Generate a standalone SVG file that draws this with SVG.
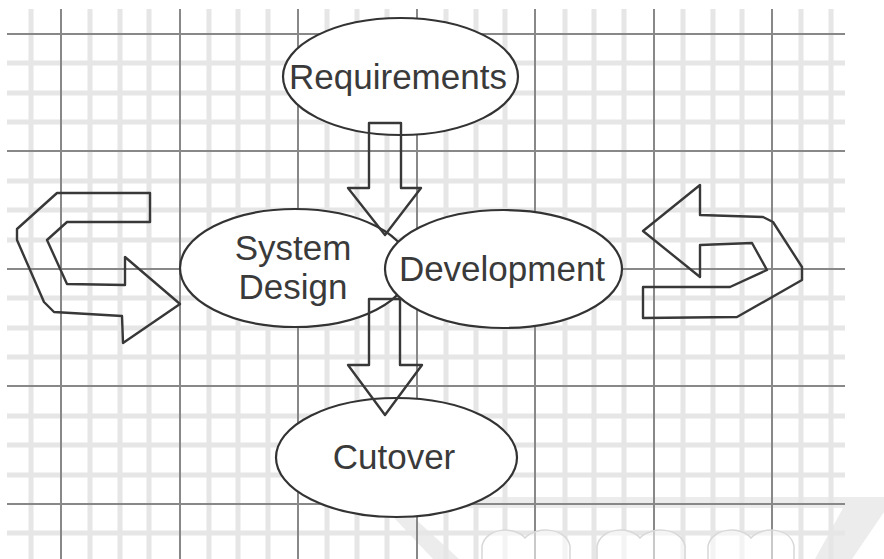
<svg xmlns="http://www.w3.org/2000/svg" width="884" height="559" viewBox="0 0 884 559">
  <style>
    .minor { stroke: #e6e6e6; stroke-width: 5; }
    .major { stroke: #888; stroke-width: 2; }
    .node ellipse { fill: #fff; stroke: #333; stroke-width: 2.2; }
    .node text { font-family: "Liberation Sans", Arial, sans-serif; font-size: 35px; fill: #3a3a3a; text-anchor: middle; }
    .arrow { fill: none; stroke: #383838; stroke-width: 2.4; stroke-linejoin: round; }
    .mark { fill: #ececec; }
    .heart { fill: #fff; fill-opacity: 0.55; stroke: #d8d8d8; stroke-width: 1.5; }
  </style>

  <rect width="884" height="559" fill="#fff"/>

  <!-- faint logo band along the bottom edge -->
  <g id="logo-band">
    <rect class="mark" x="385" y="497" width="499" height="11"/>
    <polygon class="mark" points="382,505 400,505 459,559 433,559"/>
    <polygon class="mark" points="848,499 884,499 884,512 852,559 815,559"/>
  </g>

  <!-- grid paper -->
  <g id="grid">
    <g class="minor">
      <line x1="31" y1="9" x2="31" y2="559"/>
      <line x1="90" y1="9" x2="90" y2="559"/>
      <line x1="120" y1="9" x2="120" y2="559"/>
      <line x1="149" y1="9" x2="149" y2="559"/>
      <line x1="209" y1="9" x2="209" y2="559"/>
      <line x1="238" y1="9" x2="238" y2="559"/>
      <line x1="268" y1="9" x2="268" y2="559"/>
      <line x1="327" y1="9" x2="327" y2="559"/>
      <line x1="357" y1="9" x2="357" y2="559"/>
      <line x1="387" y1="9" x2="387" y2="559"/>
      <line x1="446" y1="9" x2="446" y2="559"/>
      <line x1="476" y1="9" x2="476" y2="559"/>
      <line x1="505" y1="9" x2="505" y2="559"/>
      <line x1="565" y1="9" x2="565" y2="559"/>
      <line x1="594" y1="9" x2="594" y2="559"/>
      <line x1="624" y1="9" x2="624" y2="559"/>
      <line x1="683" y1="9" x2="683" y2="559"/>
      <line x1="713" y1="9" x2="713" y2="559"/>
      <line x1="742" y1="9" x2="742" y2="559"/>
      <line x1="801" y1="9" x2="801" y2="559"/>
      <line x1="831" y1="9" x2="831" y2="559"/>
      <line x1="7" y1="63" x2="845" y2="63"/>
      <line x1="7" y1="93" x2="845" y2="93"/>
      <line x1="7" y1="122" x2="845" y2="122"/>
      <line x1="7" y1="181" x2="845" y2="181"/>
      <line x1="7" y1="210" x2="845" y2="210"/>
      <line x1="7" y1="240" x2="845" y2="240"/>
      <line x1="7" y1="298" x2="845" y2="298"/>
      <line x1="7" y1="328" x2="845" y2="328"/>
      <line x1="7" y1="357" x2="845" y2="357"/>
      <line x1="7" y1="416" x2="845" y2="416"/>
      <line x1="7" y1="445" x2="845" y2="445"/>
      <line x1="7" y1="475" x2="845" y2="475"/>
      <line x1="7" y1="533" x2="845" y2="533"/>
    </g>
    <g class="major">
      <line x1="61" y1="9" x2="61" y2="559"/>
      <line x1="180" y1="9" x2="180" y2="559"/>
      <line x1="298" y1="9" x2="298" y2="559"/>
      <line x1="417" y1="9" x2="417" y2="559"/>
      <line x1="535" y1="9" x2="535" y2="559"/>
      <line x1="654" y1="9" x2="654" y2="559"/>
      <line x1="772" y1="9" x2="772" y2="559"/>
      <line x1="7" y1="34" x2="845" y2="34"/>
      <line x1="7" y1="151" x2="845" y2="151"/>
      <line x1="7" y1="269" x2="845" y2="269"/>
      <line x1="7" y1="386" x2="845" y2="386"/>
      <line x1="7" y1="504" x2="845" y2="504"/>
    </g>
  </g>

  <!-- faint logo shapes over the grid -->
  <g id="logo-hearts">
    <path class="heart" d="M525,538 C515,526 486,527 482,546 L482,561 L570,561 L570,546 C566,527 536,526 525,538 Z"/>
    <path class="heart" d="M640,538 C630,526 601,527 597,546 L597,561 L685,561 L685,546 C681,527 651,526 640,538 Z"/>
    <path class="heart" d="M751,538 C741,526 712,527 708,546 L708,561 L794,561 L794,546 C790,527 762,526 751,538 Z"/>
  </g>

  <g id="requirements" class="node">
    <ellipse cx="400.5" cy="76.5" rx="117.5" ry="58.5"/>
    <text x="398" y="89">Requirements</text>
  </g>

  <g id="system-design" class="node">
    <ellipse cx="295" cy="268" rx="115" ry="59"/>
    <text x="293" y="260">System</text>
    <text x="293" y="299">Design</text>
  </g>

  <g id="development" class="node">
    <ellipse cx="503.5" cy="269" rx="118.5" ry="59"/>
    <text x="502" y="281">Development</text>
  </g>

  <g id="cutover" class="node">
    <ellipse cx="396.5" cy="457.5" rx="120.5" ry="59.5"/>
    <text x="394" y="469">Cutover</text>
  </g>

  <!-- block arrows -->
  <g id="connectors">
    <polygon class="arrow" points="369,123 401,123 401,188 421,188 385,235 348,188 369,188"/>
    <polygon class="arrow" points="369,299 400,299 400,365 422,365 385,415 348,365 369,365"/>
    <polygon class="arrow" points="150,193 57,193 17,229 17,240 44,302 54,312 122,316 123,343 180,304 125,257 125,285 67,284 47,240 67,222 150,222"/>
    <polygon class="arrow" points="643,231 700,185 700,215 763,217 773,222 802,267 802,280 737,317 643,318 643,287 730,287 767,270 752,243 700,245 700,277"/>
  </g>
</svg>
